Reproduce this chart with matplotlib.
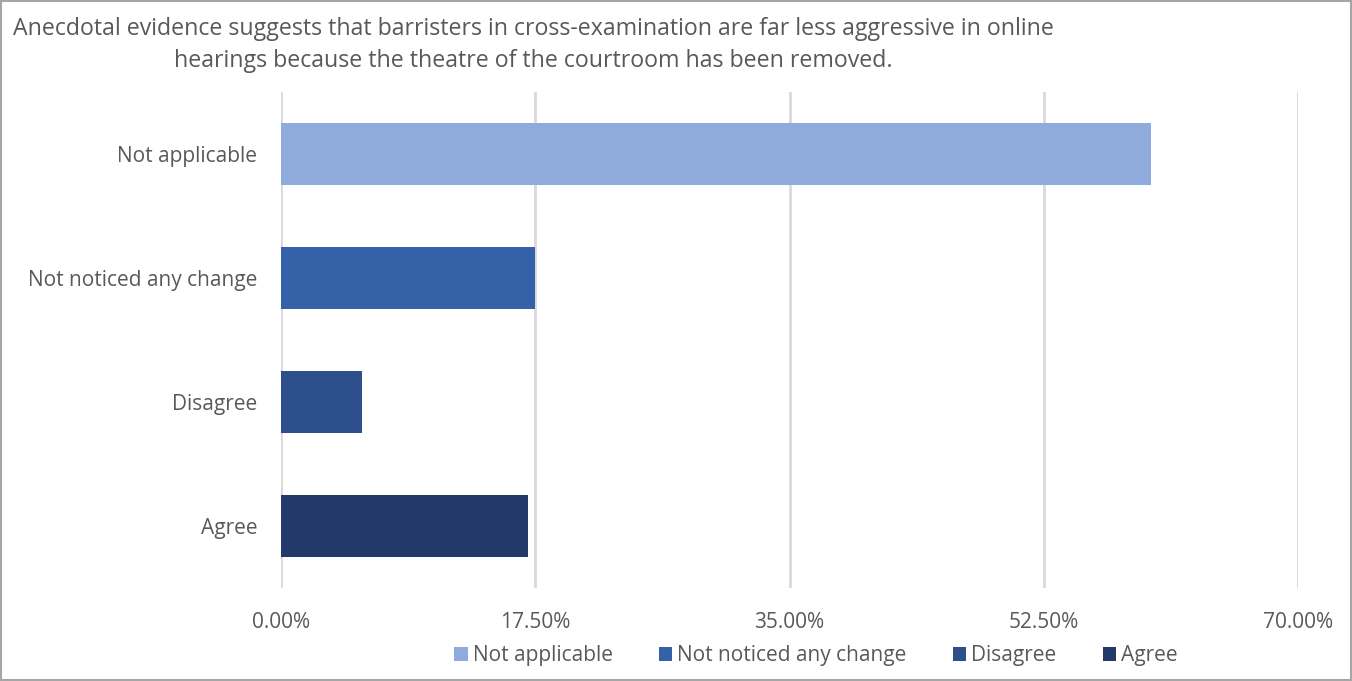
import matplotlib.pyplot as plt
from matplotlib.patches import Rectangle, Patch

# survey responses (share of respondents)
categories = ["Not applicable", "Not noticed any change", "Disagree", "Agree"]
shares = [59.9, 17.5, 5.6, 17.0]
colors = ["#8FAADC", "#3561A8", "#2D4F8B", "#22396A"]
xticks = [0, 17.5, 35, 52.5, 70]

title = ("Anecdotal evidence suggests that barristers in cross-examination are far less aggressive in online\n"
         "hearings because the theatre of the courtroom has been removed.")

plt.rcParams['font.family'] = ['Open Sans', 'DejaVu Sans']
grey = "#595959"

fig = plt.figure(figsize=(13.52, 6.81), dpi=100)
ax = fig.add_axes([281 / 1352, 1 - 588 / 681, (1298 - 281) / 1352, (588 - 92) / 681])

ypos = list(range(len(categories)))
ax.barh(ypos, shares, height=0.5, color=colors, zorder=3)
ax.set_ylim(len(categories) - 0.5, -0.5)
ax.set_xlim(0, 70)

ax.set_yticks(ypos)
ax.set_yticklabels(categories)
ax.set_xticks(xticks)
ax.set_xticklabels(["{:.2f}%".format(v) for v in xticks])
ax.tick_params(length=0, labelsize=15, colors=grey)
ax.tick_params(axis='y', pad=17)
ax.tick_params(axis='x', pad=17)
ax.grid(axis='x', color="#D9D9D9", linewidth=2, zorder=0)
for s in ax.spines.values():
    s.set_visible(False)

fig.text(533 / 1352, 1 - 45 / 681, title, ha='center', va='center',
         fontsize=16.7, color=grey, linespacing=1.42)

handles = [Patch(facecolor=c, label=l) for c, l in zip(colors, categories)]
fig.legend(handles=handles, loc='center', bbox_to_anchor=(816 / 1352, 1 - 656 / 681),
           ncol=4, frameon=False, fontsize=15, labelcolor=grey,
           handlelength=0.65, handleheight=0.65, handletextpad=0.25, columnspacing=2.2)

# outer frame
fig.patches.append(Rectangle((0.001, 0.001), 0.998, 0.997, transform=fig.transFigure,
                             fill=False, edgecolor="#A6A6A6", linewidth=1.5))

fig.savefig("out.png", dpi=100)
